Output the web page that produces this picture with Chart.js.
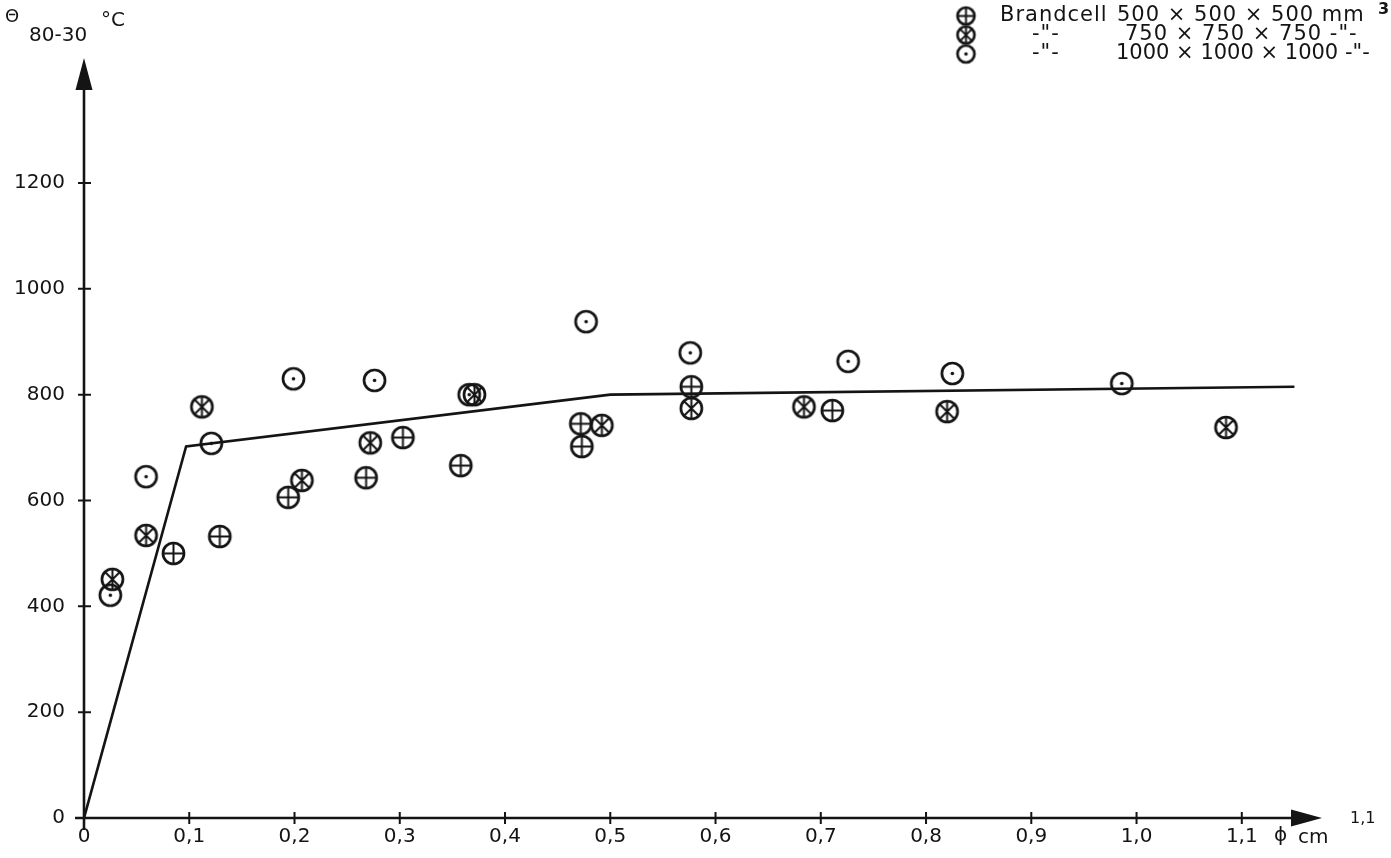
<!DOCTYPE html>
<html>
<head>
<meta charset="utf-8">
<title>Brandcell</title>
<script src="https://cdn.jsdelivr.net/npm/chart.js"></script>
<style>
  html, body { margin: 0; padding: 0; background: #fff; }
  #wrap { width: 1391px; height: 858px; position: relative; }
</style>
</head>
<body>
<div id="wrap"><canvas id="chart"></canvas></div>
<script>
// phi (cm) and temperature (°C) per cell size
const phi500 = [0.085, 0.129, 0.194, 0.268, 0.303, 0.358, 0.472, 0.473, 0.577, 0.711];
const temp500 = [500, 532, 606, 643, 719, 666, 745, 702, 815, 770];

const phi750 = [0.027, 0.059, 0.112, 0.207, 0.272, 0.371, 0.492, 0.577, 0.684, 0.820, 1.085];
const temp750 = [451, 534, 777, 638, 709, 800, 742, 774, 777, 768, 738];

const phi1000 = [0.025, 0.059, 0.121, 0.199, 0.276, 0.366, 0.477, 0.576, 0.726, 0.825, 0.986];
const temp1000 = [421, 645, 708, 830, 827, 800, 938, 879, 863, 840, 821];

// fitted curve
const curvePhi = [0, 0.097, 0.5, 1.15];
const curveTemp = [0, 702, 800, 815];

const xTicks = [0, 0.1, 0.2, 0.3, 0.4, 0.5, 0.6, 0.7, 0.8, 0.9, 1.0, 1.1];
const yTicks = [0, 200, 400, 600, 800, 1000, 1200];

const cellNames = ['Brandcell', '-"-', '-"-'];
const cellSizes = ['500 × 500 × 500 mm', '750 × 750 × 750 -"-', '1000 × 1000 × 1000 -"-'];

const ink = '#141414';
const FONT = "'DejaVu Sans', sans-serif";

Chart.defaults.font.family = FONT;
Chart.defaults.color = ink;

// circle markers: plus, spoked, dotted
function makeSymbol(kind, r) {
    const s = Math.ceil(r * 2 + 6);
    const c = document.createElement('canvas');
    c.width = c.height = s;
    const g = c.getContext('2d');
    const m = s / 2;
    g.strokeStyle = ink;
    g.fillStyle = ink;
    g.lineWidth = 2.7;
    g.beginPath();
    g.arc(m, m, r, 0, Math.PI * 2);
    g.stroke();
    g.lineWidth = 2;
    g.beginPath();
    if (kind === 'plus') {
        g.moveTo(m - r, m); g.lineTo(m + r, m);
        g.moveTo(m, m - r); g.lineTo(m, m + r);
    } else if (kind === 'star') {
        const d = r * 0.72;
        g.moveTo(m, m - r); g.lineTo(m, m + r);
        g.moveTo(m - d, m - d); g.lineTo(m + d, m + d);
        g.moveTo(m + d, m - d); g.lineTo(m - d, m + d);
    }
    g.stroke();
    if (kind === 'dot') {
        g.beginPath();
        g.arc(m, m, 1.8, 0, Math.PI * 2);
        g.fill();
    }
    return c;
}

const symPlus = makeSymbol('plus', 10.5);
const symStar = makeSymbol('star', 10.5);
const symDot = makeSymbol('dot', 10.5);
const legendSyms = [makeSymbol('plus', 8.5), makeSymbol('star', 8.5), makeSymbol('dot', 8.5)];

const toPoints = (xs, ys) => xs.map((v, i) => ({ x: v, y: ys[i] }));

const fmtTick = v => (v === 0 ? '0' : v.toFixed(1).replace('.', ','));

// axes with arrow heads and crossing tick marks, plus the hand lettering
const handAxes = {
    id: 'handAxes',
    beforeDatasetsDraw(chart) {
        const { ctx } = chart;
        const { x, y } = chart.scales;
        const x0 = x.getPixelForValue(0);
        const y0 = y.getPixelForValue(0);
        const xEnd = x.right - 4;
        const yTop = y.top + 2;

        ctx.save();
        ctx.strokeStyle = ink;
        ctx.fillStyle = ink;
        ctx.lineWidth = 2.6;

        ctx.beginPath();
        ctx.moveTo(x0, y0 + 12);
        ctx.lineTo(x0, yTop + 26);
        ctx.moveTo(x0 - 9, y0);
        ctx.lineTo(xEnd - 26, y0);
        ctx.stroke();

        ctx.beginPath();
        ctx.moveTo(x0, yTop);
        ctx.lineTo(x0 - 8.5, yTop + 32);
        ctx.lineTo(x0 + 8.5, yTop + 32);
        ctx.closePath();
        ctx.fill();

        ctx.beginPath();
        ctx.moveTo(xEnd, y0);
        ctx.lineTo(xEnd - 31, y0 - 8.5);
        ctx.lineTo(xEnd - 31, y0 + 8.5);
        ctx.closePath();
        ctx.fill();

        ctx.lineWidth = 2;
        ctx.beginPath();
        x.ticks.forEach(t => {
            if (t.value === 0) return;
            const px = x.getPixelForValue(t.value);
            ctx.moveTo(px, y0 - 6);
            ctx.lineTo(px, y0 + 6);
        });
        y.ticks.forEach(t => {
            if (t.value === 0) return;
            const py = y.getPixelForValue(t.value);
            ctx.moveTo(x0 - 6, py);
            ctx.lineTo(x0 + 7, py);
        });
        ctx.stroke();
        ctx.restore();
    },
    afterDraw(chart) {
        const { ctx } = chart;
        ctx.save();
        ctx.fillStyle = ink;
        ctx.textBaseline = 'middle';
        ctx.textAlign = 'left';

        // y axis title
        ctx.font = `18px ${FONT}`;
        ctx.fillText('Θ', 5, 17);
        ctx.font = `20px ${FONT}`;
        ctx.fillText('80-30', 29, 36);
        ctx.fillText('°C', 101, 21);

        // x axis unit
        ctx.fillText('ϕ', 1274, 836);
        ctx.fillText('cm', 1298, 838);
        ctx.font = `16px ${FONT}`;
        ctx.fillText('1,1', 1350, 819);

        // page number
        ctx.font = `bold 16px ${FONT}`;
        ctx.fillText('3', 1378, 10);

        // legend
        const rowY = [16, 35, 54];
        const sizeX = [1117, 1125, 1116];
        const sizeGap = ['1px', '1px', '0px'];
        rowY.forEach((ry, i) => {
            const s = legendSyms[i];
            ctx.drawImage(s, 966 - s.width / 2, ry - s.height / 2);
            ctx.font = `21px ${FONT}`;
            ctx.letterSpacing = '1px';
            ctx.fillText(cellNames[i], i === 0 ? 1000 : 1032, ry);
            ctx.letterSpacing = sizeGap[i];
            ctx.fillText(cellSizes[i], sizeX[i], ry);
        });
        ctx.restore();
    }
};

new Chart(document.getElementById('chart'), {
    type: 'scatter',
    data: {
        datasets: [
            {
                type: 'line',
                label: 'curve',
                data: toPoints(curvePhi, curveTemp),
                borderColor: ink,
                borderWidth: 2.6,
                pointRadius: 0,
                tension: 0,
                fill: false
            },
            {
                label: cellSizes[0],
                data: toPoints(phi500, temp500),
                pointStyle: symPlus
            },
            {
                label: cellSizes[1],
                data: toPoints(phi750, temp750),
                pointStyle: symStar
            },
            {
                label: cellSizes[2],
                data: toPoints(phi1000, temp1000),
                pointStyle: symDot
            }
        ]
    },
    options: {
        responsive: true,
        maintainAspectRatio: false,
        animation: false,
        layout: { padding: { top: 56, right: 65, bottom: 0, left: 0 } },
        plugins: {
            legend: { display: false },
            tooltip: { enabled: false }
        },
        scales: {
            x: {
                type: 'linear',
                min: 0,
                max: 1.18,
                grid: { display: false, drawTicks: false },
                border: { display: false },
                ticks: {
                    padding: 7,
                    maxRotation: 0,
                    autoSkip: false,
                    font: { size: 20 },
                    callback: fmtTick
                },
                afterBuildTicks: s => { s.ticks = xTicks.map(v => ({ value: v })); },
                afterFit: s => { s.height = 40; }
            },
            y: {
                type: 'linear',
                min: 0,
                max: 1440,
                grid: { display: false, drawTicks: false },
                border: { display: false },
                ticks: {
                    padding: 19,
                    autoSkip: false,
                    font: { size: 20 },
                    callback: v => String(v)
                },
                afterBuildTicks: s => { s.ticks = yTicks.map(v => ({ value: v })); },
                afterFit: s => { s.width = 84; }
            }
        }
    },
    plugins: [handAxes]
});
</script>
</body>
</html>
